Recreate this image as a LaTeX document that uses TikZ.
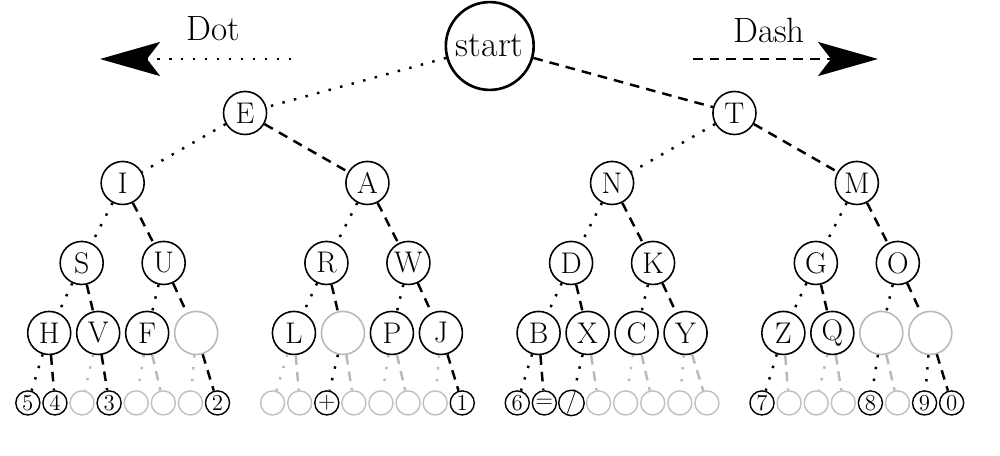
\documentclass[tikz,border=0pt]{standalone}
\usepackage{tikz}
\usetikzlibrary{shapes,arrows,arrows.meta,positioning}

\begin{document}
\begin{tikzpicture}[x=0.02cm, y=0.02cm, node distance=1.4cm,
    root/.style={circle, draw, line width=1.5pt, minimum size=50pt, inner sep=0pt, font=\fontsize{20.5}{24}\selectfont},
    letter/.style={circle, draw, line width=0.9pt, minimum size=24.5pt, inner sep=0pt, font=\fontsize{17}{20}\selectfont},
    blank/.style={letter, draw=gray!55},
    leaf/.style={circle, draw, line width=0.8pt, minimum size=13.7pt, inner sep=0pt, font=\fontsize{13}{15}\selectfont},
    noleaf/.style={leaf, draw=gray!50},
    dotline/.style={draw, line width=1.4pt, dash pattern=on 1.4pt off 5.4pt},
    dashline/.style={draw, line width=1.4pt, dash pattern=on 5.5pt off 4pt},
    faint/.style={draw=gray!55},
    label/.style={font=\fontsize{20}{24}\selectfont},
    bigtip/.style={-{Stealth[length=1.2cm, width=0.68cm, inset=0.26cm]}}]

    \useasboundingbox (0,0) rectangle (1000,-456);

    % legend
    \node [label] (dot) at (213,-29) {Dot};
    \node [label] (dash) at (769,-30) {Dash};
    \coordinate (dotfrom) at (291,-59);
    \coordinate (dotto) at (100,-59);
    \coordinate (dashfrom) at (693,-59);
    \coordinate (dashto) at (878,-59);
    \draw [dotline, bigtip] (dotfrom) -- (dotto);
    \draw [dashline, bigtip] (dashfrom) -- (dashto);

    % tree
    \node [root] (start) at (489.75,-46) {start};
    \node [letter, below of=start, xshift=-4.895cm, yshift=0.06cm] (E) {E};
    \node [letter, below of=start, xshift=4.895cm, yshift=0.06cm] (T) {T};

    \node [letter, below of=E, xshift=-2.448cm] (I) {I};
    \node [letter, below of=E, xshift=2.448cm] (A) {A};
    \node [letter, below of=T, xshift=-2.448cm] (N) {N};
    \node [letter, below of=T, xshift=2.448cm] (M) {M};

    \node [letter, below of=I, xshift=-0.82cm, yshift=-0.2cm] (S) {S};
    \node [letter, below of=I, xshift=0.82cm, yshift=-0.2cm] (U) {U};
    \node [letter, below of=A, xshift=-0.82cm, yshift=-0.2cm] (R) {R};
    \node [letter, below of=A, xshift=0.82cm, yshift=-0.2cm] (W) {W};
    \node [letter, below of=N, xshift=-0.82cm, yshift=-0.2cm] (D) {D};
    \node [letter, below of=N, xshift=0.82cm, yshift=-0.2cm] (K) {K};
    \node [letter, below of=M, xshift=-0.82cm, yshift=-0.2cm] (G) {G};
    \node [letter, below of=M, xshift=0.82cm, yshift=-0.2cm] (O) {O};

    \node [letter, below of=I, xshift=-1.47cm, yshift=-1.6cm] (H) {H};
    \node [letter, below of=I, xshift=-0.49cm, yshift=-1.6cm] (V) {V};
    \node [letter, below of=I, xshift=0.49cm, yshift=-1.6cm] (F) {F};
    \node [blank, below of=I, xshift=1.47cm, yshift=-1.6cm] (Udash) {};
    \node [letter, below of=A, xshift=-1.47cm, yshift=-1.6cm] (L) {L};
    \node [blank, below of=A, xshift=-0.49cm, yshift=-1.6cm] (Rdash) {};
    \node [letter, below of=A, xshift=0.49cm, yshift=-1.6cm] (P) {P};
    \node [letter, below of=A, xshift=1.47cm, yshift=-1.6cm] (J) {J};
    \node [letter, below of=N, xshift=-1.47cm, yshift=-1.6cm] (B) {B};
    \node [letter, below of=N, xshift=-0.49cm, yshift=-1.6cm] (X) {X};
    \node [letter, below of=N, xshift=0.49cm, yshift=-1.6cm] (C) {C};
    \node [letter, below of=N, xshift=1.47cm, yshift=-1.6cm] (Y) {Y};
    \node [letter, below of=M, xshift=-1.47cm, yshift=-1.6cm] (Z) {Z};
    \node [letter, below of=M, xshift=-0.49cm, yshift=-1.6cm] (Q) {Q};
    \node [blank, below of=M, xshift=0.49cm, yshift=-1.6cm] (Odot) {};
    \node [blank, below of=M, xshift=1.47cm, yshift=-1.6cm] (Odash) {};

    % five-signal codes
    \node [leaf, below of=I, xshift=-1.897cm, yshift=-3cm] (Ha) {5};
    \node [leaf, below of=I, xshift=-1.355cm, yshift=-3cm] (Hb) {4};
    \node [noleaf, below of=I, xshift=-0.813cm, yshift=-3cm] (Va) {};
    \node [leaf, below of=I, xshift=-0.271cm, yshift=-3cm] (Vb) {3};
    \node [noleaf, below of=I, xshift=0.271cm, yshift=-3cm] (Fa) {};
    \node [noleaf, below of=I, xshift=0.813cm, yshift=-3cm] (Fb) {};
    \node [noleaf, below of=I, xshift=1.355cm, yshift=-3cm] (Uda) {};
    \node [leaf, below of=I, xshift=1.897cm, yshift=-3cm] (Udb) {2};

    \node [noleaf, below of=A, xshift=-1.897cm, yshift=-3cm] (La) {};
    \node [noleaf, below of=A, xshift=-1.355cm, yshift=-3cm] (Lb) {};
    \node [leaf, below of=A, xshift=-0.813cm, yshift=-3cm] (Rda) {+};
    \node [noleaf, below of=A, xshift=-0.271cm, yshift=-3cm] (Rdb) {};
    \node [noleaf, below of=A, xshift=0.271cm, yshift=-3cm] (Pa) {};
    \node [noleaf, below of=A, xshift=0.813cm, yshift=-3cm] (Pb) {};
    \node [noleaf, below of=A, xshift=1.355cm, yshift=-3cm] (Ja) {};
    \node [leaf, below of=A, xshift=1.897cm, yshift=-3cm] (Jb) {1};

    \node [leaf, below of=N, xshift=-1.897cm, yshift=-3cm] (Ba) {6};
    \node [leaf, below of=N, xshift=-1.355cm, yshift=-3cm] (Bb) {=};
    \node [leaf, below of=N, xshift=-0.813cm, yshift=-3cm] (Xa) {/};
    \node [noleaf, below of=N, xshift=-0.271cm, yshift=-3cm] (Xb) {};
    \node [noleaf, below of=N, xshift=0.271cm, yshift=-3cm] (Ca) {};
    \node [noleaf, below of=N, xshift=0.813cm, yshift=-3cm] (Cb) {};
    \node [noleaf, below of=N, xshift=1.355cm, yshift=-3cm] (Ya) {};
    \node [noleaf, below of=N, xshift=1.897cm, yshift=-3cm] (Yb) {};

    \node [leaf, below of=M, xshift=-1.897cm, yshift=-3cm] (Za) {7};
    \node [noleaf, below of=M, xshift=-1.355cm, yshift=-3cm] (Zb) {};
    \node [noleaf, below of=M, xshift=-0.813cm, yshift=-3cm] (Qa) {};
    \node [noleaf, below of=M, xshift=-0.271cm, yshift=-3cm] (Qb) {};
    \node [leaf, below of=M, xshift=0.271cm, yshift=-3cm] (Oda) {8};
    \node [noleaf, below of=M, xshift=0.813cm, yshift=-3cm] (Odb) {};
    \node [leaf, below of=M, xshift=1.355cm, yshift=-3cm] (Odda) {9};
    \node [leaf, below of=M, xshift=1.897cm, yshift=-3cm] (Oddb) {0};

    % dots to the left, dashes to the right
    \draw [dotline] (start) -- (E);
    \draw [dashline] (start) -- (T);
    \draw [dotline] (E) -- (I);
    \draw [dashline] (E) -- (A);
    \draw [dotline] (T) -- (N);
    \draw [dashline] (T) -- (M);

    \draw [dotline] (I) -- (S);
    \draw [dashline] (I) -- (U);
    \draw [dotline] (A) -- (R);
    \draw [dashline] (A) -- (W);
    \draw [dotline] (N) -- (D);
    \draw [dashline] (N) -- (K);
    \draw [dotline] (M) -- (G);
    \draw [dashline] (M) -- (O);

    \draw [dotline] (S) -- (H);
    \draw [dashline] (S) -- (V);
    \draw [dotline] (U) -- (F);
    \draw [dashline] (U) -- (Udash);
    \draw [dotline] (R) -- (L);
    \draw [dashline] (R) -- (Rdash);
    \draw [dotline] (W) -- (P);
    \draw [dashline] (W) -- (J);
    \draw [dotline] (D) -- (B);
    \draw [dashline] (D) -- (X);
    \draw [dotline] (K) -- (C);
    \draw [dashline] (K) -- (Y);
    \draw [dotline] (G) -- (Z);
    \draw [dashline] (G) -- (Q);
    \draw [dotline] (O) -- (Odot);
    \draw [dashline] (O) -- (Odash);

    \draw [dotline] (H) -- (Ha);
    \draw [dashline] (H) -- (Hb);
    \draw [dotline, faint] (V) -- (Va);
    \draw [dashline] (V) -- (Vb);
    \draw [dotline, faint] (F) -- (Fa);
    \draw [dashline, faint] (F) -- (Fb);
    \draw [dotline, faint] (Udash) -- (Uda);
    \draw [dashline] (Udash) -- (Udb);

    \draw [dotline, faint] (L) -- (La);
    \draw [dashline, faint] (L) -- (Lb);
    \draw [dotline] (Rdash) -- (Rda);
    \draw [dashline, faint] (Rdash) -- (Rdb);
    \draw [dotline, faint] (P) -- (Pa);
    \draw [dashline, faint] (P) -- (Pb);
    \draw [dotline, faint] (J) -- (Ja);
    \draw [dashline] (J) -- (Jb);

    \draw [dotline] (B) -- (Ba);
    \draw [dashline] (B) -- (Bb);
    \draw [dotline] (X) -- (Xa);
    \draw [dashline, faint] (X) -- (Xb);
    \draw [dotline, faint] (C) -- (Ca);
    \draw [dashline, faint] (C) -- (Cb);
    \draw [dotline, faint] (Y) -- (Ya);
    \draw [dashline, faint] (Y) -- (Yb);

    \draw [dotline] (Z) -- (Za);
    \draw [dashline, faint] (Z) -- (Zb);
    \draw [dotline, faint] (Q) -- (Qa);
    \draw [dashline, faint] (Q) -- (Qb);
    \draw [dotline] (Odot) -- (Oda);
    \draw [dashline, faint] (Odot) -- (Odb);
    \draw [dotline] (Odash) -- (Odda);
    \draw [dashline] (Odash) -- (Oddb);
\end{tikzpicture}
\end{document}
